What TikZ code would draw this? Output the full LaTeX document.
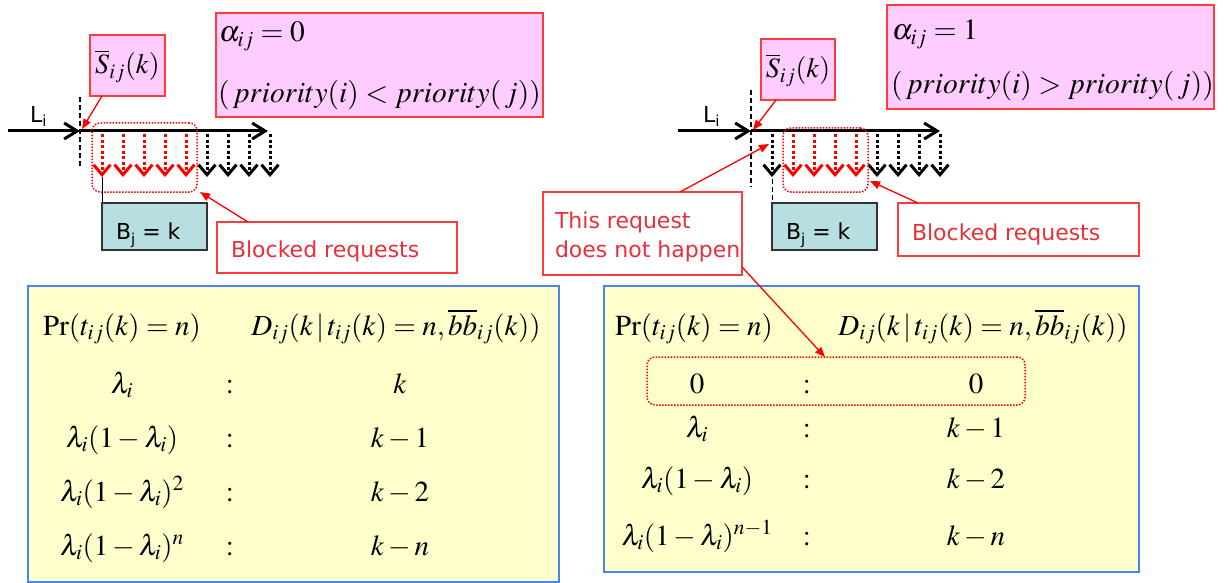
\documentclass[tikz,border=0pt]{standalone}
\usepackage{mathptmx}
\usepackage[no-math]{fontspec}
\newfontfamily\dvs{DejaVu Sans}
\usetikzlibrary{arrows.meta,calc}
\definecolor{pinkfill}{HTML}{FFCCFF}
\definecolor{boxred}{HTML}{FF3B3B}
\definecolor{txtred}{HTML}{E8303A}
\definecolor{panelyellow}{HTML}{FFFFCC}
\definecolor{panelblue}{HTML}{4A86E8}
\definecolor{tealfill}{HTML}{B7DEE0}
\definecolor{tealline}{HTML}{333333}
\tikzset{
  box/.style={draw, inner sep=0pt, outer sep=0pt, anchor=north west},
  pinkbox/.style={box, draw=boxred, fill=pinkfill, line width=1.5pt},
  redbox/.style={box, draw=boxred, fill=white, line width=1.3pt},
  tealbox/.style={box, draw=tealline, fill=tealfill, line width=1.5pt},
  panel/.style={box, draw=panelblue, fill=panelyellow, line width=1.5pt},
  dotbox/.style={box, draw=red, dash pattern=on 1.5pt off 1.5pt, line width=1.5pt, rounded corners=8pt},
  axis/.style={line width=3pt, -{Straight Barb[length=13pt,width=16pt]}},
  req/.style={line width=3pt, dash pattern=on 3pt off 2.5pt, -{Straight Barb[length=10pt,width=17pt]}},
  callout/.style={red, line width=1.3pt, -{Triangle[length=10pt,width=8pt]}},
  lab/.style={inner sep=0pt, outer sep=0pt, anchor=base west},
  sans/.style={font=\dvs\fontsize{22}{26}\selectfont},
  mbig/.style={font=\fontsize{29.5}{33}\selectfont},
  msbox/.style={font=\fontsize{28}{32}\selectfont},
  tab/.style={inner sep=0pt, outer sep=0pt, anchor=base, font=\fontsize{29}{32}\selectfont},
}
\begin{document}
\begin{tikzpicture}[x=1pt,y=-1pt]
\useasboundingbox (0,0) rectangle (1228,583);

% ================= LEFT TOP =================
\node[pinkbox, minimum width=327pt, minimum height=104pt] (aL) at (216,13) {};
\node[lab, mbig] (aL1) at (219,42) {$\alpha_{ij} = 0$};
\node[lab, mbig] (aL2) at (218,103) {$(\,priority(i) < priority(\,j))$};

\node[pinkbox, minimum width=75pt, minimum height=61pt] (sL) at (90,35) {};
\node[msbox, inner sep=0pt] (sLt) at (127.5,66) {$\overline{S}_{ij}(k)$};

\node[lab, sans] (LiL) at (30,122) {L\raisebox{-5pt}{\fontsize{15}{17}\selectfont i}};

\coordinate (LaxA) at (8,131);
\coordinate (LaxB) at (80,131);
\coordinate (LaxC) at (268,131);
\draw[axis] (LaxA) -- (LaxB);
\draw[axis] (LaxB) -- (LaxC);
\draw[line width=1.1pt, dash pattern=on 5pt off 3pt] (80,97) -- (80,167);

\foreach \x in {102,123,144,165,186} \draw[req, red] (\x,134) -- (\x,177);
\foreach \x in {207,228,249,270} \draw[req, black] (\x,134) -- (\x,177);

\node[dotbox, minimum width=105pt, minimum height=69pt] (dL) at (92,123) {};

\node[tealbox, minimum width=105pt, minimum height=47pt] (bjL) at (102,203) {};
\node[lab, sans] (bjLt) at (116,239) {B\raisebox{-5pt}{\fontsize{15}{17}\selectfont j} = k};
\draw[line width=1pt] (102,177) -- (bjL.north west);

\node[redbox, minimum width=240pt, minimum height=51pt] (blkL) at (217,222) {};
\node[lab, sans, text=txtred] (blkLt) at (231,257) {Blocked requests};

\coordinate (sLtip) at (82,129);
\coordinate (dLtip) at (200,192);
\draw[callout] ($(sL.south west)+(12,0)$) -- (sLtip);
\draw[callout] ($(blkL.north west)+(31,0)$) -- (dLtip);

% ================= RIGHT TOP =================
\node[pinkbox, minimum width=327pt, minimum height=104pt] (aR) at (887,5) {};
\node[lab, mbig] (aR1) at (892,40) {$\alpha_{ij} = 1$};
\node[lab, mbig] (aR2) at (891,94) {$(\,priority(i) > priority(\,j))$};

\node[pinkbox, minimum width=74pt, minimum height=61pt] (sR) at (761,39) {};
\node[msbox, inner sep=0pt] (sRt) at (798,70) {$\overline{S}_{ij}(k)$};

\node[lab, sans] (LiR) at (703,122) {L\raisebox{-5pt}{\fontsize{15}{17}\selectfont i}};

\coordinate (RaxA) at (678,131);
\coordinate (RaxB) at (751,131);
\coordinate (RaxC) at (940,131);
\draw[axis] (RaxA) -- (RaxB);
\draw[axis] (RaxB) -- (RaxC);
\draw[line width=1.1pt, dash pattern=on 5pt off 3pt] (751,90) -- (751,187);

\foreach \x in {793,814,835,856} \draw[req, red] (\x,134) -- (\x,177);
\foreach \x in {772,877,898,919,940} \draw[req, black] (\x,134) -- (\x,177);

\node[dotbox, minimum width=85pt, minimum height=64pt] (dR) at (783,128) {};

\node[tealbox, minimum width=105pt, minimum height=47pt] (bjR) at (772,203) {};
\node[lab, sans] (bjRt) at (786,239) {B\raisebox{-5pt}{\fontsize{15}{17}\selectfont j} = k};
\draw[line width=1pt, dash pattern=on 5pt off 3pt] (772,179) -- (bjR.north west);

\node[redbox, minimum width=241pt, minimum height=53pt] (blkR) at (898,203) {};
\node[lab, sans, text=txtred] (blkRt) at (912,240) {Blocked requests};

\node[redbox, minimum width=199pt, minimum height=83pt] (thR) at (543,192) {};
\node[lab, sans, text=txtred] (thR1) at (555,228) {This request};
\node[lab, sans, text=txtred] (thR2) at (555,257) {does not happen};

\coordinate (sRtip) at (753,130);
\coordinate (dRtip) at (870,181);
\coordinate (thRtip) at (769,144);
\draw[callout] ($(sR.south west)+(15,0)$) -- (sRtip);
\draw[callout] ($(blkR.north west)+(20,0)$) -- (dRtip);
\draw[callout] ($(thR.north west)+(137,0)$) -- (thRtip);

% ================= LEFT TABLE =================
\node[panel, minimum width=531pt, minimum height=296pt] (pL) at (28,286) {};
\node[tab] (L00) at (122,335) {$\Pr(t_{ij}(k)=n)$};
\node[tab] (L02) at (396,335) {$D_{ij}(k\,|\,t_{ij}(k)=n,\overline{bb}_{ij}(k))$};
\node[tab] (L10) at (122,393) {$\lambda_i$};
\node[tab] (L11) at (230,393) {$:$};
\node[tab] (L12) at (400,393) {$k$};
\node[tab] (L20) at (122,447) {$\lambda_i(1-\lambda_i)$};
\node[tab] (L21) at (230,447) {$:$};
\node[tab] (L22) at (400,447) {$k-1$};
\node[tab] (L30) at (122,501) {$\lambda_i(1-\lambda_i)^2$};
\node[tab] (L31) at (230,501) {$:$};
\node[tab] (L32) at (400,501) {$k-2$};
\node[tab] (L40) at (122,555) {$\lambda_i(1-\lambda_i)^n$};
\node[tab] (L41) at (230,555) {$:$};
\node[tab] (L42) at (400,555) {$k-n$};

% ================= RIGHT TABLE =================
\node[panel, minimum width=535pt, minimum height=286pt] (pR) at (604,286) {};
\node[tab] (R00) at (694,335) {$\Pr(t_{ij}(k)=n)$};
\node[tab] (R02) at (983,335) {$D_{ij}(k\,|\,t_{ij}(k)=n,\overline{bb}_{ij}(k))$};
\node[dotbox, minimum width=378pt, minimum height=48pt] (dZ) at (647,357) {};
\node[tab] (R10) at (697,393) {$0$};
\node[tab] (R11) at (807,393) {$:$};
\node[tab] (R12) at (976,393) {$0$};
\node[tab] (R20) at (697,437) {$\lambda_i$};
\node[tab] (R21) at (807,437) {$:$};
\node[tab] (R22) at (976,437) {$k-1$};
\node[tab] (R30) at (697,488) {$\lambda_i(1-\lambda_i)$};
\node[tab] (R31) at (807,488) {$:$};
\node[tab] (R32) at (976,488) {$k-2$};
\node[tab] (R40) at (697,545) {$\lambda_i(1-\lambda_i)^{n-1}$};
\node[tab] (R41) at (807,545) {$:$};
\node[tab] (R42) at (976,545) {$k-n$};

\draw[callout] ($(thR.south east)+(0,-8)$) -- ($(dZ.north west)+(178,0)$);
\end{tikzpicture}
\end{document}
